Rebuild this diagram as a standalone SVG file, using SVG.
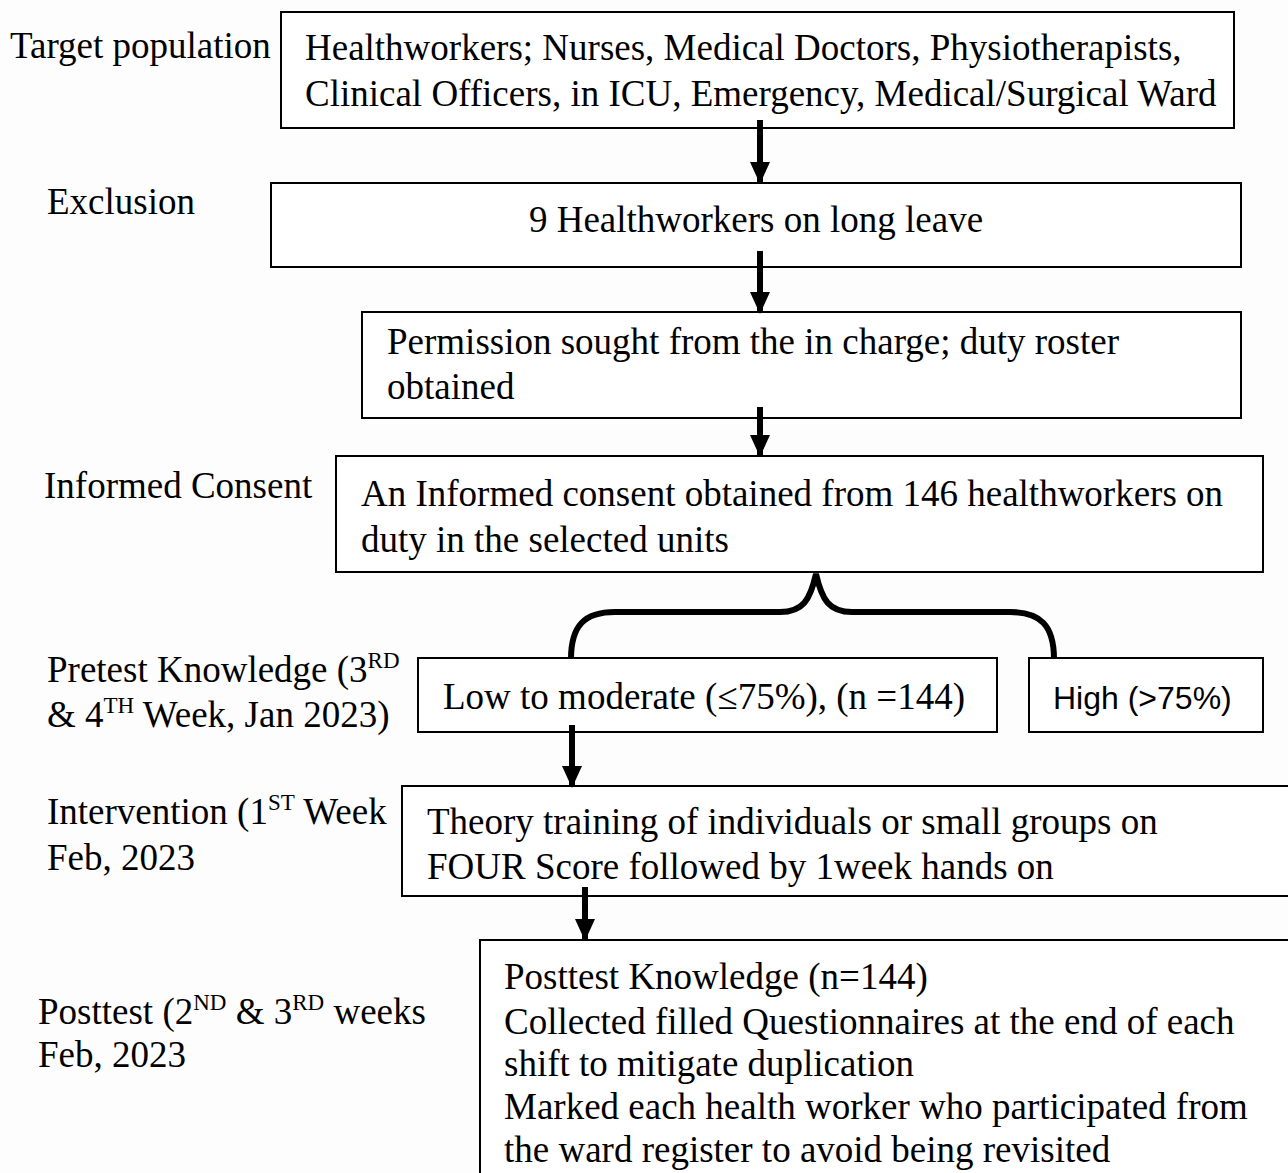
<svg xmlns="http://www.w3.org/2000/svg" width="1288" height="1173" viewBox="0 0 1288 1173">
<defs>
<style>
.box{fill:#fff;stroke:#000;stroke-width:2}
.t{font-family:"Liberation Serif","Times New Roman",serif;font-size:37px;fill:#000}
.s{font-family:"Liberation Sans",Arial,sans-serif;font-size:32px;fill:#000}
.sup{font-size:23px}
.conn{stroke:#000;stroke-width:6;fill:none}
</style>
<marker id="ah" markerWidth="22" markerHeight="20" refX="21" refY="10" orient="auto" markerUnits="userSpaceOnUse"><path d="M0,0 L22,10 L0,20 Z" fill="#000"/></marker>
</defs>
<rect width="1288" height="1173" fill="#fdfdfd"/>
<g id="labels">
<text class="t" x="10" y="58">Target population</text>
<text class="t" x="47" y="214">Exclusion</text>
<text class="t" x="44" y="498">Informed Consent</text>
<text class="t" x="47" y="682">Pretest Knowledge (3<tspan class="sup" dy="-14">RD</tspan></text>
<text class="t" x="47" y="727">&amp; 4<tspan class="sup" dy="-14">TH</tspan><tspan dy="14"> Week, Jan 2023)</tspan></text>
<text class="t" x="47" y="824">Intervention (1<tspan class="sup" dy="-14">ST</tspan><tspan dy="14"> Week</tspan></text>
<text class="t" x="47" y="870">Feb, 2023</text>
<text class="t" x="38" y="1024">Posttest (2<tspan class="sup" dy="-14">ND</tspan><tspan dy="14"> &amp; 3</tspan><tspan class="sup" dy="-14">RD</tspan><tspan dy="14"> weeks</tspan></text>
<text class="t" x="38" y="1067">Feb, 2023</text>
</g>
<g id="n1"><rect class="box" x="281" y="12" width="953" height="116"/>
<text class="t" x="305" y="60">Healthworkers; Nurses, Medical Doctors, Physiotherapists,</text>
<text class="t" x="305" y="106">Clinical Officers, in ICU, Emergency, Medical/Surgical Ward</text></g>
<g id="n2"><rect class="box" x="271" y="183" width="970" height="84"/>
<text class="t" x="756" y="232" text-anchor="middle">9 Healthworkers on long leave</text></g>
<g id="n3"><rect class="box" x="362" y="312" width="879" height="106"/>
<text class="t" x="387" y="354">Permission sought from the in charge; duty roster</text>
<text class="t" x="387" y="399">obtained</text></g>
<g id="n4"><rect class="box" x="336" y="456" width="927" height="116"/>
<text class="t" x="361" y="506">An Informed consent obtained from 146 healthworkers on</text>
<text class="t" x="361" y="552">duty in the selected units</text></g>
<g id="n5"><rect class="box" x="418" y="658" width="579" height="74"/>
<text class="t" x="443" y="709">Low to moderate (≤75%), (n =144)</text></g>
<g id="n6"><rect class="box" x="1029" y="658" width="234" height="74"/>
<text class="s" x="1053" y="709">High (&gt;75%)</text></g>
<g id="n7"><rect class="box" x="402" y="786" width="900" height="110"/>
<text class="t" x="427" y="834">Theory training of individuals or small groups on</text>
<text class="t" x="427" y="879">FOUR Score followed by 1week hands on</text></g>
<g id="n8"><rect class="box" x="480" y="940" width="830" height="250"/>
<text class="t" x="504" y="989">Posttest Knowledge (n=144)</text>
<text class="t" x="504" y="1034">Collected filled Questionnaires at the end of each</text>
<text class="t" x="504" y="1076">shift to mitigate duplication</text>
<text class="t" x="504" y="1119">Marked each health worker who participated from</text>
<text class="t" x="504" y="1162">the ward register to avoid being revisited</text></g>
<g id="connectors">
<line class="conn" x1="760" y1="120" x2="760" y2="183" marker-end="url(#ah)"/>
<line class="conn" x1="760" y1="251" x2="760" y2="313" marker-end="url(#ah)"/>
<line class="conn" x1="760" y1="407" x2="760" y2="456" marker-end="url(#ah)"/>
<line class="conn" x1="572" y1="725" x2="572" y2="787" marker-end="url(#ah)"/>
<line class="conn" x1="585" y1="887" x2="585" y2="940" marker-end="url(#ah)"/>
<path class="conn" d="M571,659 C571,625 585,612 615,612 L780,612 C803,612 810,600 816,574 C822,600 829,612 852,612 L1010,612 C1040,612 1054,625 1054,659"/>
</g>
</svg>
